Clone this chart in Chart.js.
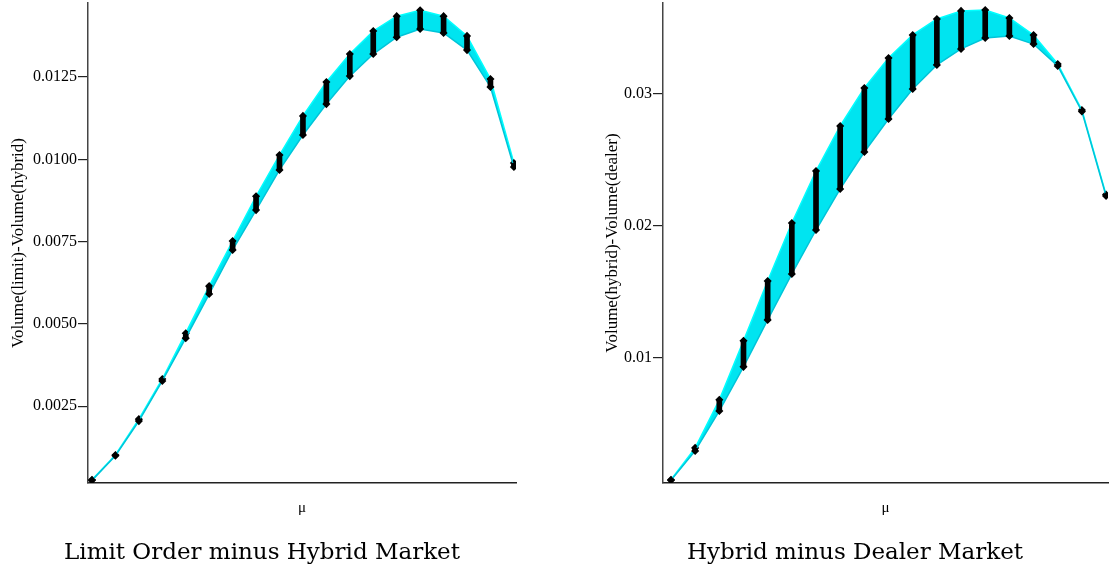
<!DOCTYPE html>
<html>
<head>
<meta charset="utf-8">
<script src="https://cdn.jsdelivr.net/npm/chart.js@4"></script>
<style>
  body { margin: 0; background: #fff; }
  canvas { position: absolute; top: 0; }
  #left { left: 0; }
  #right { left: 555px; }
</style>
</head>
<body>
<canvas id="left" width="555" height="569"></canvas>
<canvas id="right" width="555" height="569"></canvas>
<script>
// mu grid (19 steps, unlabeled on the axis)
const muSteps = [1, 2, 3, 4, 5, 6, 7, 8, 9, 10, 11, 12, 13, 14, 15, 16, 17, 18, 19];

// Limit order minus hybrid: top and bottom of the family of curves
const limitUpper = [0.00027, 0.00102, 0.00211, 0.00333, 0.00472, 0.00615, 0.00752, 0.00888, 0.01013, 0.01132,
  0.01235, 0.01320, 0.01390, 0.01435, 0.01453, 0.01435, 0.01375, 0.01244, 0.00989];
const limitLower = [0.00025, 0.00100, 0.00205, 0.00327, 0.00457, 0.00591, 0.00725, 0.00846, 0.00968, 0.01074,
  0.01168, 0.01253, 0.01320, 0.01371, 0.01396, 0.01384, 0.01332, 0.01220, 0.00977];
const limitTicks = [0.0025, 0.005, 0.0075, 0.01, 0.0125];

// Hybrid minus dealer
const dealerUpper = [0.00075, 0.00316, 0.00680, 0.01127, 0.01581, 0.02020, 0.02414, 0.02755, 0.03043, 0.03270,
  0.03445, 0.03566, 0.03627, 0.03634, 0.03573, 0.03445, 0.03225, 0.02876, 0.02235];
const dealerLower = [0.00071, 0.00293, 0.00596, 0.00930, 0.01286, 0.01634, 0.01967, 0.02278, 0.02558, 0.02808,
  0.03036, 0.03218, 0.03339, 0.03422, 0.03437, 0.03376, 0.03210, 0.02865, 0.02225];
const dealerTicks = [0.01, 0.02, 0.03];

const serif = '"Liberation Serif", "Times New Roman", serif';

function makePanel(id, cfg) {
  const upper = muSteps.map((m, i) => ({ x: m, y: cfg.upper[i] }));
  const lower = muSteps.map((m, i) => ({ x: m, y: cfg.lower[i] }));
  const ranges = muSteps.map((m, i) => ({ x: m, y: [cfg.lower[i], cfg.upper[i]] }));

  new Chart(document.getElementById(id), {
    type: 'line',
    data: {
      datasets: [
        {
          data: lower, borderColor: '#00c4d8', borderWidth: 1.5, tension: 0,
          pointRadius: 3, pointStyle: 'rectRot', pointBackgroundColor: '#000', pointBorderColor: '#000',
          fill: false, order: 2
        },
        {
          data: upper, borderColor: '#00ffff', borderWidth: 1.5, tension: 0,
          pointRadius: 3, pointStyle: 'rectRot', pointBackgroundColor: '#000', pointBorderColor: '#000',
          fill: '-1', backgroundColor: '#00e4f0', order: 2
        },
        {
          type: 'bar', data: ranges, backgroundColor: '#000', barThickness: 5,
          borderRadius: 2, borderSkipped: false, grouped: false, order: 1
        }
      ]
    },
    options: {
      responsive: false,
      animation: false,
      devicePixelRatio: 1,
      layout: { autoPadding: false, padding: { top: 3, left: cfg.padLeft, right: cfg.padRight, bottom: 0 } },
      plugins: {
        legend: { display: false },
        tooltip: { enabled: false },
        title: {
          display: true, position: 'bottom', text: cfg.title, color: '#000',
          font: { family: '"DejaVu Serif", serif', size: 23, weight: 'normal' },
          padding: { top: 12.2, bottom: 2.2 }
        }
      },
      scales: {
        x: {
          type: 'linear', min: cfg.xMin, max: cfg.xMax, offset: false,
          grid: { display: false },
          border: { color: '#222', width: 1.5 },
          ticks: { display: false },
          title: {
            display: true, text: 'μ', color: '#000',
            font: { family: serif, size: 15 }, padding: { top: 0, bottom: 10 }
          },
          afterFit: s => { s.height = 44; s.paddingLeft = 0; s.paddingRight = 0; }
        },
        y: {
          min: cfg.yMin, max: cfg.yMax,
          grid: { drawOnChartArea: false, tickLength: 10, color: '#222', lineWidth: 1.2 },
          border: { color: '#444', width: 1.5 },
          afterBuildTicks: s => { s.ticks = cfg.ticks.map(v => ({ value: v })); },
          ticks: {
            color: '#000', padding: 1,
            font: { family: serif, size: 16 },
            callback: v => v.toFixed(cfg.digits)
          },
          title: {
            display: true, text: cfg.yLabel, color: '#000',
            font: { family: serif, size: 17 }, padding: { top: cfg.yTitlePad, bottom: 0 }
          },
          afterFit: s => { s.width = cfg.yWidth; s.paddingTop = 0; s.paddingBottom = 0; }
        }
      }
    }
  });
}

makePanel('left', {
  upper: limitUpper, lower: limitLower, ticks: limitTicks, digits: 4,
  yMin: 0.00017, yMax: 0.01475, xMin: 0.83, xMax: 19.09,
  padLeft: 8, padRight: 39, yWidth: 80, yTitlePad: 0,
  yLabel: 'Volume(limit)-Volume(hybrid)',
  title: 'Limit Order minus Hybrid Market'
});

makePanel('right', {
  upper: dealerUpper, lower: dealerLower, ticks: dealerTicks, digits: 2,
  yMin: 0.0005, yMax: 0.03687, xMin: 0.67, xMax: 19.08,
  padLeft: 47, padRight: 2, yWidth: 61, yTitlePad: 0,
  yLabel: 'Volume(hybrid)-Volume(dealer)',
  title: 'Hybrid minus Dealer Market'
});
</script>
</body>
</html>
